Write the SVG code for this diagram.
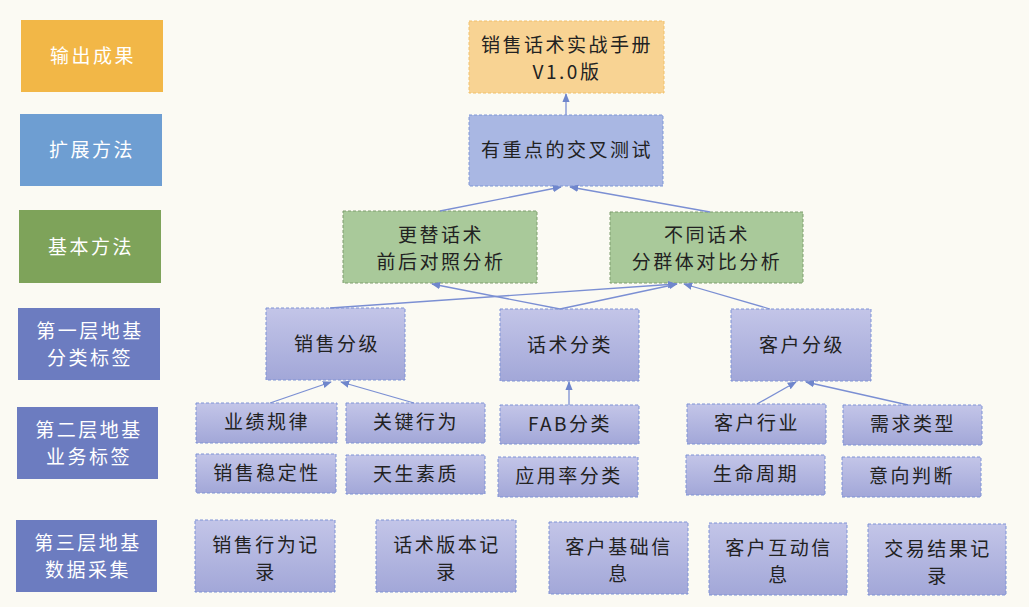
<svg xmlns="http://www.w3.org/2000/svg" width="1029" height="607" viewBox="0 0 1029 607">
<defs>
<linearGradient id="pg" x1="0" y1="0" x2="0" y2="1">
<stop offset="0" stop-color="#C3C5E8"/>
<stop offset="1" stop-color="#A2A7D8"/>
</linearGradient>
<marker id="ah" viewBox="0 0 10 10" refX="9" refY="5" markerWidth="7" markerHeight="7" orient="auto">
<path d="M0,1 L10,5 L0,9 Z" fill="#6F86CC"/>
</marker>
<style>
.lbl rect{stroke:none}
.lbl text{fill:#FFFFFF;font-family:"Noto Sans CJK SC","Noto Sans",sans-serif;font-size:19px;letter-spacing:2.5px;text-anchor:middle}
.nd rect{fill:url(#pg);stroke:#7F93D6;stroke-width:1;stroke-dasharray:3 2}
.nd text{fill:#222222;font-family:"Noto Sans CJK SC","Noto Sans",sans-serif;font-size:19px;letter-spacing:2.5px;text-anchor:middle}
.gr rect{fill:#A9C99A;stroke:#7E9E6E}
.og rect{fill:#F8D393;stroke:#F1C06A}
.bl rect{fill:#A9B7E3;stroke:#7F97D6}
.cn line{stroke:#7B8FD3;stroke-width:1.3;marker-end:url(#ah)}
</style>
</defs>
<rect x="0" y="0" width="1029" height="607" fill="#FBFAF3"/>

<g id="lbl-output" class="lbl"><rect x="21" y="20" width="142" height="72" fill="#F2B747"/><text x="93" y="63">输出成果</text></g>
<g id="lbl-ext" class="lbl"><rect x="20" y="114" width="142" height="72" fill="#6E9ED2"/><text x="92" y="157">扩展方法</text></g>
<g id="lbl-basic" class="lbl"><rect x="19" y="210" width="142" height="73" fill="#7EA35A"/><text x="91" y="254">基本方法</text></g>
<g id="lbl-l1" class="lbl"><rect x="18" y="308" width="142" height="72" fill="#6C7CC0"/><text x="90" y="338">第一层地基</text><text x="90" y="365">分类标签</text></g>
<g id="lbl-l2" class="lbl"><rect x="17" y="407" width="141" height="72" fill="#6C7CC0"/><text x="89" y="437">第二层地基</text><text x="89" y="464">业务标签</text></g>
<g id="lbl-l3" class="lbl"><rect x="16" y="520" width="141" height="72" fill="#6C7CC0"/><text x="88" y="550">第三层地基</text><text x="88" y="577">数据采集</text></g>

<g id="n-manual" class="nd og"><rect x="469" y="21" width="195" height="72"/><text x="567" y="52">销售话术实战手册</text><text x="567" y="79" font-family="Liberation Serif,serif">V1.0版</text></g>
<g id="n-cross" class="nd bl"><rect x="469" y="115" width="194" height="71"/><text x="567" y="157">有重点的交叉测试</text></g>
<g id="n-replace" class="nd gr"><rect x="343" y="211" width="194" height="72"/><text x="441" y="242">更替话术</text><text x="441" y="269">前后对照分析</text></g>
<g id="n-diff" class="nd gr"><rect x="610" y="212" width="193" height="71"/><text x="707" y="242">不同话术</text><text x="707" y="269">分群体对比分析</text></g>

<g id="n-salesgrade" class="nd"><rect x="266" y="308" width="139" height="72"/><text x="337" y="351">销售分级</text></g>
<g id="n-scriptcat" class="nd"><rect x="500" y="309" width="139" height="72"/><text x="570" y="352">话术分类</text></g>
<g id="n-custgrade" class="nd"><rect x="731" y="309" width="140" height="72"/><text x="802" y="352">客户分级</text></g>

<g id="n-perf" class="nd"><rect x="196" y="403" width="141" height="40"/><text x="267" y="429">业绩规律</text></g>
<g id="n-keyact" class="nd"><rect x="346" y="403" width="139" height="40"/><text x="416" y="429">关键行为</text></g>
<g id="n-stable" class="nd"><rect x="196" y="454" width="140" height="39"/><text x="267" y="480">销售稳定性</text></g>
<g id="n-innate" class="nd"><rect x="346" y="455" width="139" height="39"/><text x="416" y="481">天生素质</text></g>
<g id="n-fab" class="nd"><rect x="500" y="405" width="139" height="39"/><text x="570" y="431">FAB分类</text></g>
<g id="n-usage" class="nd"><rect x="498" y="457" width="140" height="40"/><text x="569" y="483">应用率分类</text></g>
<g id="n-industry" class="nd"><rect x="687" y="404" width="139" height="40"/><text x="757" y="430">客户行业</text></g>
<g id="n-demand" class="nd"><rect x="843" y="405" width="139" height="40"/><text x="913" y="431">需求类型</text></g>
<g id="n-life" class="nd"><rect x="686" y="455" width="139" height="40"/><text x="756" y="481">生命周期</text></g>
<g id="n-intent" class="nd"><rect x="842" y="457" width="139" height="40"/><text x="912" y="483">意向判断</text></g>

<g id="n-salesrec" class="nd"><rect x="195" y="520" width="140" height="72"/><text x="266" y="552">销售行为记</text><text x="266" y="579">录</text></g>
<g id="n-verrec" class="nd"><rect x="376" y="520" width="140" height="72"/><text x="447" y="552">话术版本记</text><text x="447" y="579">录</text></g>
<g id="n-custbase" class="nd"><rect x="549" y="522" width="139" height="72"/><text x="619" y="554">客户基础信</text><text x="619" y="581">息</text></g>
<g id="n-custinter" class="nd"><rect x="709" y="523" width="138" height="72"/><text x="779" y="555">客户互动信</text><text x="779" y="582">息</text></g>
<g id="n-deal" class="nd"><rect x="868" y="524" width="138" height="71"/><text x="938" y="556">交易结果记</text><text x="938" y="583">录</text></g>

<g id="connectors" class="cn">
<line x1="566" y1="115" x2="566" y2="94"/>
<line x1="440" y1="211" x2="561" y2="187"/>
<line x1="710" y1="212" x2="570" y2="187"/>
<line x1="560" y1="309" x2="432" y2="284"/>
<line x1="330" y1="308" x2="676" y2="284"/>
<line x1="560" y1="309" x2="677" y2="284"/>
<line x1="770" y1="309" x2="684" y2="284"/>
<line x1="270" y1="403" x2="331" y2="382"/>
<line x1="414" y1="403" x2="341" y2="382"/>
<line x1="569" y1="405" x2="569" y2="382"/>
<line x1="757" y1="404" x2="796" y2="382"/>
<line x1="908" y1="405" x2="806" y2="382"/>
</g>
</svg>
